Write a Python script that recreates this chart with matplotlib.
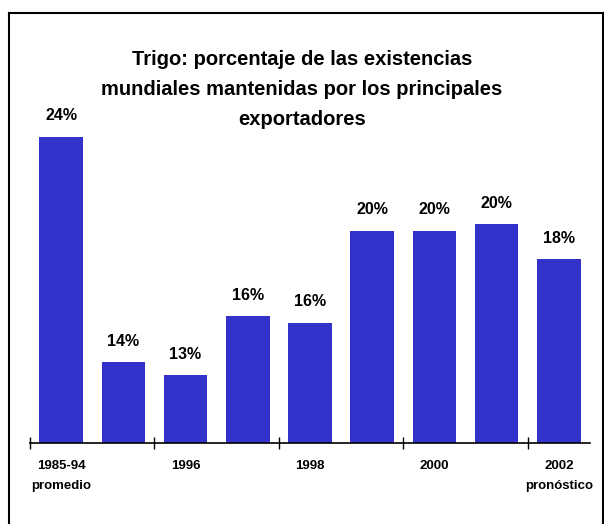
"""
Trigo: share of world stocks held by main exporters.
"""
import matplotlib.pyplot as plt
from matplotlib.lines import Line2D

plt.rcParams["font.family"] = ["Liberation Sans", "DejaVu Sans"]

CATEGORIES = ["1985-94\npromedio", "1995", "1996", "1997", "1998", "1999", "2000", "2001", "2002\npronóstico"]
SHARES = [24.0, 13.7, 13.1, 15.8, 15.5, 19.7, 19.7, 20.0, 18.4]
SHARE_LABELS = ["24%", "14%", "13%", "16%", "16%", "20%", "20%", "20%", "18%"]
SHOWN_TICK_LABELS = [0, 2, 4, 6, 8]
TITLE = "Trigo: porcentaje de las existencias\nmundiales mantenidas por los principales\nexportadores"

BAR_COLOR = "#3333cc"
OUTPUT_PATH = "out.png"


def main() -> None:
    fig = plt.figure(figsize=(6.04, 5.24), dpi=100)
    ax = fig.add_axes([0.0497, 0.1546, 0.927, 0.668])

    positions = list(range(len(SHARES)))
    ax.bar(positions, SHARES, width=0.7, color=BAR_COLOR, bottom=0)
    ax.set_xlim(-0.5, len(SHARES) - 0.5)
    ax.set_ylim(10, 26)

    for x, value, label in zip(positions, SHARES, SHARE_LABELS):
        ax.text(x, value + 0.95, label, ha="center", va="center",
                fontsize=11.5, fontweight="bold")

    for side in ["top", "right", "left"]:
        ax.spines[side].set_visible(False)
    ax.spines["bottom"].set_linewidth(1.2)
    ax.set_yticks([])

    # ticks sit between categories, labels under every other bar
    ax.set_xticks([-0.5, 1.5, 3.5, 5.5, 7.5])
    ax.set_xticklabels([])
    ax.tick_params(axis="x", direction="inout", length=8, width=1)
    for i in SHOWN_TICK_LABELS:
        ax.text(i, 9.22, CATEGORIES[i], ha="center", va="top", fontsize=9.5,
                fontweight="bold", linespacing=1.85, clip_on=False)

    fig.text(0.5, 0.829, TITLE, ha="center", va="center", fontsize=14.5,
             fontweight="bold", linespacing=1.72)

    # frame around the chart area
    left, top, right = 8.5 / 604, 1 - 12.5 / 524, 602.5 / 604
    for xs, ys in [([left, left], [-0.1, top]), ([left, right], [top, top]),
                   ([right, right], [top, -0.1])]:
        fig.add_artist(Line2D(xs, ys, color="black", linewidth=1.5))

    plt.savefig(OUTPUT_PATH, dpi=100)
    plt.close()


if __name__ == "__main__":
    main()
